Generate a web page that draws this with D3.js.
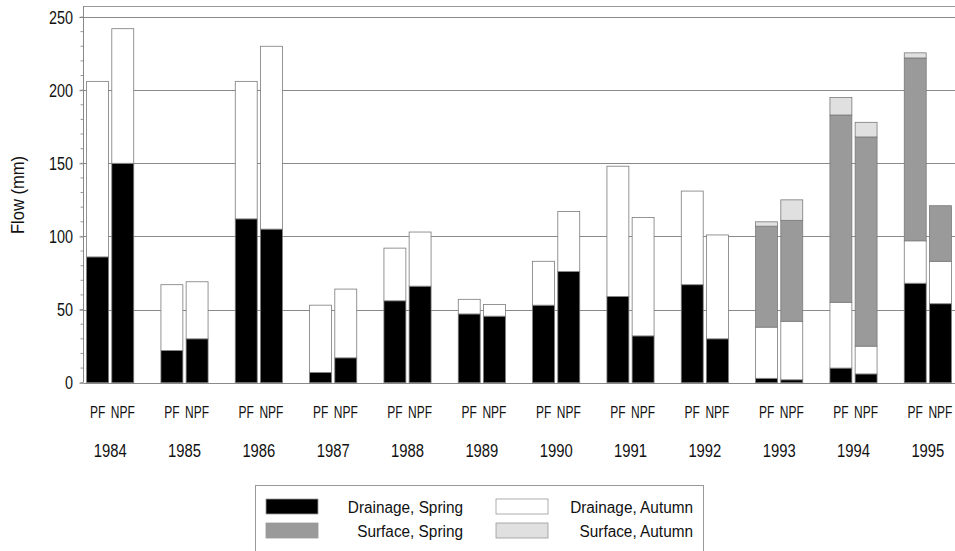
<!DOCTYPE html>
<html>
<head>
<meta charset="utf-8">
<script src="https://cdn.jsdelivr.net/npm/d3@7"></script>
<style>
  body { margin: 0; background: #fff; }
  svg { display: block; }
  text { font-family: "Liberation Sans", Arial, sans-serif; fill: #111; }
</style>
</head>
<body>
<svg width="955" height="551"></svg>
<script>
var years = ["1984","1985","1986","1987","1988","1989","1990","1991","1992","1993","1994","1995"];
var plots = ["PF","NPF"];

// values per year, PF then NPF (mm)
var drainSpring  = [[86,150],[22,30],[112,105],[7,17],[56,66],[47,45.5],[53,76],[59,32],[67,30],[3,2],[10,6],[68,54]];
var drainAutumn  = [[120,92],[45,39],[94,125],[46,47],[36,37],[10,8],[30,41],[89,81],[64,71],[35,40],[45,19],[29,29]];
var surfSpring   = [[0,0],[0,0],[0,0],[0,0],[0,0],[0,0],[0,0],[0,0],[0,0],[69,69],[128,143],[125,38]];
var surfAutumn   = [[0,0],[0,0],[0,0],[0,0],[0,0],[0,0],[0,0],[0,0],[0,0],[3,14],[12,10],[3.5,0]];

var seriesNames = ["Drainage, Spring","Drainage, Autumn","Surface, Spring","Surface, Autumn"];
var seriesColors = ["#000000","#ffffff","#9a9a9a","#e0e0e0"];
var yTicks = [0,50,100,150,200,250];

var svg = d3.select("svg"),
    width = +svg.attr("width"),
    height = +svg.attr("height");

// narrow text: the original uses a condensed face
function narrowText(g, x, yy, str, size, sx, anchor) {
  return g.append("text")
    .attr("transform", "translate(" + x + "," + yy + ") scale(" + sx + ",1)")
    .attr("text-anchor", anchor || "middle")
    .style("font-size", size + "px")
    .text(str);
}

var rows = [];
years.forEach(function(y, i) {
  plots.forEach(function(p, j) {
    rows.push({year: y, plot: p,
      "Drainage, Spring": drainSpring[i][j],
      "Drainage, Autumn": drainAutumn[i][j],
      "Surface, Spring": surfSpring[i][j],
      "Surface, Autumn": surfAutumn[i][j]});
  });
});

var x0 = d3.scaleBand().domain(years).range([73, 965]);
var x1 = d3.scaleBand().domain(plots).range([13.6, x0.bandwidth() - 13.6]).paddingInner(0.13);
var y = d3.scaleLinear().domain([0, 250]).range([382.7, 17]);
var color = d3.scaleOrdinal().domain(seriesNames).range(seriesColors);

var axisX = 83.5;

// grid
svg.append("g").selectAll("line")
  .data(yTicks)
  .enter().append("line")
  .attr("x1", axisX).attr("x2", width)
  .attr("y1", function(d) { return Math.round(y(d)) + 0.5; })
  .attr("y2", function(d) { return Math.round(y(d)) + 0.5; })
  .attr("stroke", "#8a8a8a").attr("stroke-width", 1);

// top frame line
svg.append("line")
  .attr("x1", axisX).attr("x2", width).attr("y1", 6.5).attr("y2", 6.5)
  .attr("stroke", "#9a9a9a");

// stacked bars
var stack = d3.stack().keys(seriesNames);
var layers = stack(rows);

svg.append("g").selectAll("g")
  .data(layers)
  .enter().append("g")
  .attr("fill", function(d) { return color(d.key); })
  .selectAll("rect")
  .data(function(d) { return d.filter(function(v) { return v[1] - v[0] > 0; }); })
  .enter().append("rect")
  .attr("x", function(d) { return x0(d.data.year) + x1(d.data.plot); })
  .attr("width", x1.bandwidth())
  .attr("y", function(d) { return y(d[1]); })
  .attr("height", function(d) { return y(d[0]) - y(d[1]); })
  .attr("stroke", "#7a7a7a").attr("stroke-width", 0.8);

// y axis
var yAxis = d3.axisLeft(y).tickValues(yTicks).tickSize(4).tickFormat("");
var ga = svg.append("g").attr("transform", "translate(" + axisX + ",0)").call(yAxis);
ga.select(".domain").remove();
ga.selectAll("line").attr("stroke", "#777");
yTicks.forEach(function(t) {
  narrowText(svg, 73, y(t) + 6.5, t, 18, 0.8, "end");
});

// minor ticks
svg.append("g").selectAll("line")
  .data(d3.range(0, 251, 10))
  .enter().append("line")
  .attr("x1", axisX - 3).attr("x2", axisX)
  .attr("y1", function(d) { return y(d); }).attr("y2", function(d) { return y(d); })
  .attr("stroke", "#999");

svg.append("line")
  .attr("x1", axisX).attr("x2", axisX).attr("y1", 6).attr("y2", y(0))
  .attr("stroke", "#888");

// category labels
var lab = svg.append("g");
rows.forEach(function(r) {
  narrowText(lab, x0(r.year) + x1(r.plot) + x1.bandwidth() / 2, 418, r.plot, 16, 0.75);
});
years.forEach(function(d) {
  narrowText(lab, x0(d) + x0.bandwidth() / 2, 457, d, 19, 0.78);
});

// y label
svg.append("text")
  .attr("transform", "translate(24,195) rotate(-90) scale(0.92,1)")
  .attr("text-anchor", "middle")
  .style("font-size", "18px")
  .text("Flow  (mm)");

// legend
var legend = svg.append("g");
legend.append("rect")
  .attr("x", 255.5).attr("y", 485.5).attr("width", 448).attr("height", 70)
  .attr("fill", "#fff").attr("stroke", "#999");

var legPos = [[266, 499, 463], [496, 499, 693], [266, 523, 463], [496, 523, 693]];
seriesNames.forEach(function(k, i) {
  var p = legPos[i];
  legend.append("rect")
    .attr("x", p[0]).attr("y", p[1]).attr("width", 52).attr("height", 15)
    .attr("fill", color(k)).attr("stroke", "#999").attr("stroke-width", 0.8);
  narrowText(legend, p[2], p[1] + 14, k, 16, 0.96, "end");
});
</script>
</body>
</html>
